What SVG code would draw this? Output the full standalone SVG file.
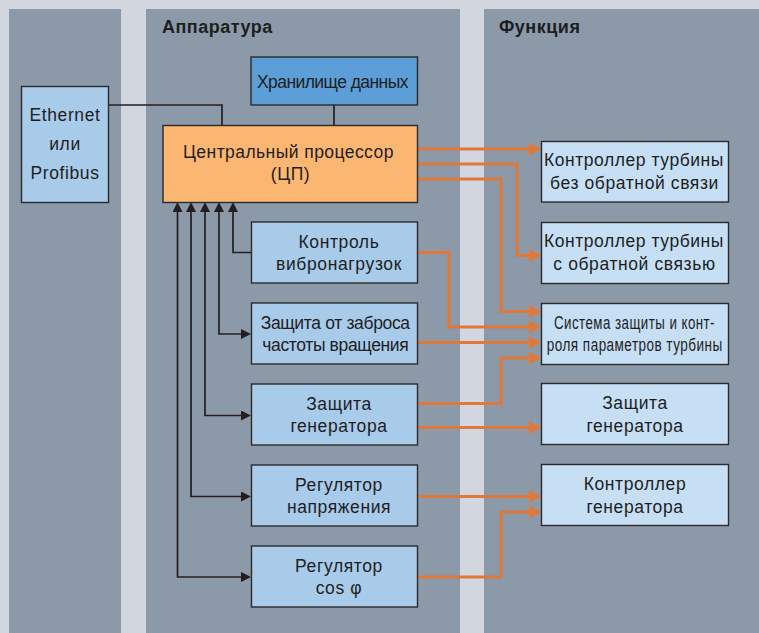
<svg xmlns="http://www.w3.org/2000/svg" width="759" height="633" viewBox="0 0 759 633">
<style>
.bg{fill:#d1d6df}
.panel{fill:#8c99a8}
.title{font-family:"Liberation Sans",Arial,sans-serif;font-weight:bold;font-size:18px;fill:#1e1e1e;letter-spacing:0.5px}
.t{font-family:"Liberation Sans",Arial,sans-serif;font-size:17.5px;fill:#1e1e1e;text-anchor:middle;letter-spacing:0.6px}
.box{stroke:#2b2b2b;stroke-width:1.4}
.hw{fill:#a9cbea}
.fn{fill:#c6dff5}
.store{fill:#5b9ed8}
.cpu{fill:#fbb772}
.bl{fill:none;stroke:#231f20;stroke-width:1.7}
.or{fill:none;stroke:#e0783a;stroke-width:3}
</style>
<defs>
<marker id="ab" markerUnits="userSpaceOnUse" markerWidth="10" markerHeight="10" refX="2" refY="5" orient="auto-start-reverse" viewBox="0 0 10 10">
<path d="M0,0 L10,5 L0,10 z" fill="#231f20"/>
</marker>
<marker id="ao" markerUnits="userSpaceOnUse" markerWidth="12" markerHeight="13" refX="2" refY="6.5" orient="auto" viewBox="0 0 12 13">
<path d="M0,0 L12,6.5 L0,13 z" fill="#e0783a"/>
</marker>
</defs>
<rect class="bg" x="0" y="0" width="759" height="633"/>
<rect class="panel" x="9" y="9" width="112" height="624"/>
<rect class="panel" x="146" y="9" width="314" height="624"/>
<rect class="panel" x="484" y="9" width="275" height="624"/>
<text class="title" x="162" y="33">Аппаратура</text>
<text class="title" x="499" y="33">Функция</text>

<g id="connectors">
<path class="bl" d="M108,105 H222 V125"/>
<path class="bl" d="M334,105 V125"/>
<path class="bl" d="M251,252.5 H233 V210" marker-end="url(#ab)"/>
<path class="bl" d="M219,210 V334 H243" marker-start="url(#ab)" marker-end="url(#ab)"/>
<path class="bl" d="M205,210 V415.5 H243" marker-start="url(#ab)" marker-end="url(#ab)"/>
<path class="bl" d="M191,210 V496.5 H243" marker-start="url(#ab)" marker-end="url(#ab)"/>
<path class="bl" d="M177.5,210 V577 H243" marker-start="url(#ab)" marker-end="url(#ab)"/>
<path class="or" d="M417,149 H531" marker-end="url(#ao)"/>
<path class="or" d="M417,164 H517 V255.5 H531" marker-end="url(#ao)"/>
<path class="or" d="M417,179 H501 V311.5 H531" marker-end="url(#ao)"/>
<path class="or" d="M417,252.5 H449 V327 H531" marker-end="url(#ao)"/>
<path class="or" d="M417,342.5 H531" marker-end="url(#ao)"/>
<path class="or" d="M417,403.5 H501 V358 H531" marker-end="url(#ao)"/>
<path class="or" d="M417,427.5 H531" marker-end="url(#ao)"/>
<path class="or" d="M417,496.5 H531" marker-end="url(#ao)"/>
<path class="or" d="M417,577 H501 V512 H531" marker-end="url(#ao)"/>
</g>

<g id="ethernet">
<rect class="box hw" x="21.5" y="86.5" width="87" height="116"/>
<text class="t" x="65" y="121">Ethernet</text>
<text class="t" x="65" y="150">или</text>
<text class="t" x="65" y="179">Profibus</text>
</g>
<g id="storage">
<rect class="box store" x="251" y="57" width="166.5" height="48"/>
<text class="t" x="333" y="87.5" textLength="152">Хранилище данных</text>
</g>
<g id="cpu">
<rect class="box cpu" x="163" y="125.5" width="254.5" height="77"/>
<text class="t" x="288.5" y="157.5" textLength="211">Центральный процессор</text>
<text class="t" x="290.5" y="180">(ЦП)</text>
</g>
<g id="vibration">
<rect class="box hw" x="251.5" y="222" width="166" height="61"/>
<text class="t" x="339" y="247.5">Контроль</text>
<text class="t" x="339" y="270" textLength="126">вибронагрузок</text>
</g>
<g id="overspeed">
<rect class="box hw" x="251.5" y="303" width="166" height="61"/>
<text class="t" x="335.7" y="328.5" textLength="150">Защита от заброса</text>
<text class="t" x="335.8" y="351" textLength="147">частоты вращения</text>
</g>
<g id="genprot-hw">
<rect class="box hw" x="251.5" y="384" width="166" height="61"/>
<text class="t" x="339" y="409.5">Защита</text>
<text class="t" x="339" y="432">генератора</text>
</g>
<g id="voltreg">
<rect class="box hw" x="251.5" y="465" width="166" height="61"/>
<text class="t" x="339" y="490.5">Регулятор</text>
<text class="t" x="339" y="513">напряжения</text>
</g>
<g id="cosreg">
<rect class="box hw" x="251.5" y="546" width="166" height="61"/>
<text class="t" x="339" y="571.5">Регулятор</text>
<text class="t" x="339" y="594">cos φ</text>
</g>

<g id="turb-open">
<rect class="box fn" x="541.5" y="141.5" width="187" height="60.5"/>
<text class="t" x="634" y="166" textLength="180">Контроллер турбины</text>
<text class="t" x="634.5" y="188.5">без обратной связи</text>
</g>
<g id="turb-closed">
<rect class="box fn" x="541.5" y="222.5" width="187" height="61"/>
<text class="t" x="634" y="247" textLength="180">Контроллер турбины</text>
<text class="t" x="634.5" y="269.5">с обратной связью</text>
</g>
<g id="turb-prot">
<rect class="box fn" x="541.5" y="303.5" width="187" height="61"/>
<text class="t" transform="translate(634.5,328.5) scale(0.87,1)" x="0" y="0" font-size="16.5" letter-spacing="0" textLength="185" lengthAdjust="spacingAndGlyphs">Система защиты и конт-</text>
<text class="t" transform="translate(634.7,350.5) scale(0.87,1)" x="0" y="0" font-size="16.5" letter-spacing="0" textLength="202" lengthAdjust="spacingAndGlyphs">роля параметров турбины</text>
</g>
<g id="genprot-fn">
<rect class="box fn" x="541.5" y="383.5" width="187" height="61"/>
<text class="t" x="635" y="409">Защита</text>
<text class="t" x="635" y="431.5">генератора</text>
</g>
<g id="gen-ctrl">
<rect class="box fn" x="541.5" y="464.5" width="187" height="61"/>
<text class="t" x="635" y="490">Контроллер</text>
<text class="t" x="635" y="512.5">генератора</text>
</g>
</svg>
